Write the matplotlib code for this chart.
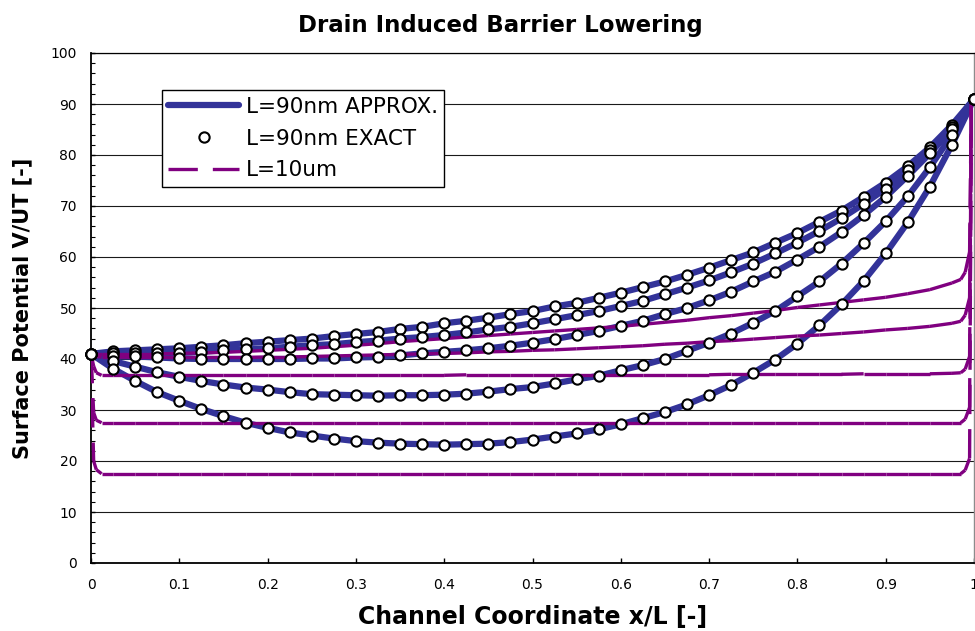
# surface potential along the channel: 90nm device vs 10um long channel (DIBL)
import numpy as np
import matplotlib.pyplot as plt
from matplotlib.collections import LineCollection
from matplotlib.lines import Line2D
from matplotlib.ticker import MultipleLocator

# channel coordinate x/L of the 90nm samples
x_90 = [0.0, 0.025, 0.05, 0.075, 0.1, 0.125, 0.15, 0.175, 0.2, 0.225,
        0.25, 0.275, 0.3, 0.325, 0.35, 0.375, 0.4, 0.425, 0.45, 0.475,
        0.5, 0.525, 0.55, 0.575, 0.6, 0.625, 0.65, 0.675, 0.7, 0.725,
        0.75, 0.775, 0.8, 0.825, 0.85, 0.875, 0.9, 0.925, 0.95, 0.975, 1.0]

# L=90nm surface potential V/UT, one curve per bias
psi_90_a = [41.0, 41.5, 41.7, 41.9, 42.1, 42.4, 42.7, 43.1, 43.4, 43.7,
            44.0, 44.5, 44.9, 45.3, 45.9, 46.3, 47.0, 47.5, 48.1, 48.8,
            49.4, 50.3, 51.0, 52.0, 53.0, 54.1, 55.2, 56.5, 57.9, 59.4,
            60.9, 62.8, 64.7, 66.9, 69.1, 71.8, 74.6, 77.8, 81.5, 85.9, 91.0]
psi_90_b = [41.0, 41.2, 41.2, 41.2, 41.2, 41.4, 41.7, 41.9, 42.1, 42.4,
            42.7, 42.9, 43.3, 43.6, 44.0, 44.3, 44.7, 45.2, 45.8, 46.3,
            47.0, 47.8, 48.6, 49.4, 50.4, 51.4, 52.7, 54.0, 55.4, 57.0,
            58.7, 60.7, 62.8, 65.1, 67.6, 70.4, 73.4, 77.0, 81.0, 85.5, 91.0]
psi_90_c = [41.0, 40.5, 40.5, 40.3, 40.1, 40.0, 40.0, 40.0, 40.0, 40.0,
            40.1, 40.1, 40.3, 40.4, 40.7, 41.1, 41.4, 41.7, 42.1, 42.6,
            43.2, 43.9, 44.7, 45.5, 46.5, 47.5, 48.8, 50.0, 51.5, 53.2,
            55.2, 57.1, 59.5, 62.0, 64.9, 68.2, 71.8, 75.9, 80.3, 85.0, 91.0]
psi_90_d = [41.0, 39.6, 38.5, 37.4, 36.5, 35.7, 35.0, 34.4, 34.0, 33.5,
            33.1, 33.0, 32.9, 32.8, 32.9, 32.9, 33.0, 33.2, 33.6, 34.1,
            34.5, 35.2, 36.0, 36.7, 37.8, 38.8, 40.0, 41.6, 43.2, 45.0,
            47.1, 49.4, 52.3, 55.2, 58.7, 62.7, 67.0, 71.9, 77.6, 83.9, 91.0]
psi_90_e = [41.0, 38.1, 35.7, 33.5, 31.8, 30.2, 28.8, 27.5, 26.5, 25.6,
            25.0, 24.4, 23.9, 23.6, 23.4, 23.3, 23.2, 23.3, 23.4, 23.7,
            24.2, 24.8, 25.4, 26.2, 27.2, 28.4, 29.6, 31.1, 32.9, 34.9,
            37.3, 39.9, 43.0, 46.6, 50.7, 55.3, 60.7, 66.8, 73.8, 82.0, 91.0]

# channel coordinate of the 10um samples (steep source/drain edges)
x_10 = [0.0, 0.003, 0.006, 0.012, 0.025, 0.05, 0.075, 0.1, 0.125, 0.15,
        0.175, 0.2, 0.225, 0.25, 0.275, 0.3, 0.325, 0.35, 0.375, 0.4,
        0.425, 0.45, 0.475, 0.5, 0.525, 0.55, 0.575, 0.6, 0.625, 0.65,
        0.675, 0.7, 0.725, 0.75, 0.775, 0.8, 0.825, 0.85, 0.875, 0.9,
        0.925, 0.95, 0.975, 0.985, 0.99, 0.995, 0.997]

# L=10um surface potential V/UT
psi_10_a = [41.0, 41.0, 41.0, 41.0, 41.0, 41.0, 41.0, 41.1, 41.2, 41.3,
            41.5, 41.7, 41.9, 42.1, 42.4, 42.7, 43.0, 43.4, 43.7, 44.0,
            44.3, 44.6, 44.9, 45.2, 45.5, 45.8, 46.1, 46.4, 46.8, 47.2,
            47.6, 48.1, 48.5, 49.0, 49.5, 50.1, 50.6, 51.1, 51.6, 52.1,
            52.8, 53.6, 54.9, 55.6, 57.0, 61.0, 91.0]
psi_10_b = [41.0, 40.7, 40.5, 40.4, 40.4, 40.3, 40.3, 40.3, 40.3, 40.3,
            40.3, 40.4, 40.4, 40.5, 40.6, 40.7, 40.8, 40.9, 41.0, 41.1,
            41.2, 41.4, 41.5, 41.7, 41.8, 42.0, 42.2, 42.4, 42.6, 42.9,
            43.1, 43.4, 43.6, 43.9, 44.2, 44.5, 44.7, 45.0, 45.3, 45.7,
            46.0, 46.4, 47.0, 47.4, 48.6, 52.0, 91.0]
psi_10_c = [41.0, 38.6, 37.3, 36.8, 36.8, 36.8, 36.8, 36.8, 36.8, 36.8,
            36.8, 36.8, 36.8, 36.8, 36.8, 36.8, 36.8, 36.8, 36.8, 36.8,
            36.9, 36.9, 36.9, 36.9, 36.9, 36.9, 36.9, 36.9, 36.9, 36.9,
            36.9, 36.9, 37.0, 37.0, 37.0, 37.0, 37.0, 37.0, 37.1, 37.1,
            37.1, 37.1, 37.2, 37.3, 38.0, 40.5, 91.0]
psi_10_d = [41.0, 29.5, 28.0, 27.5, 27.5, 27.5, 27.5, 27.5, 27.5, 27.5,
            27.5, 27.5, 27.5, 27.5, 27.5, 27.5, 27.5, 27.5, 27.5, 27.5,
            27.5, 27.5, 27.5, 27.5, 27.5, 27.5, 27.5, 27.5, 27.5, 27.5,
            27.5, 27.5, 27.5, 27.5, 27.5, 27.5, 27.5, 27.5, 27.5, 27.5,
            27.5, 27.5, 27.5, 27.5, 28.2, 30.5, 91.0]
psi_10_e = [41.0, 20.0, 18.3, 17.5, 17.5, 17.5, 17.5, 17.5, 17.5, 17.5,
            17.5, 17.5, 17.5, 17.5, 17.5, 17.5, 17.5, 17.5, 17.5, 17.5,
            17.5, 17.5, 17.5, 17.5, 17.5, 17.5, 17.5, 17.5, 17.5, 17.5,
            17.5, 17.5, 17.5, 17.5, 17.5, 17.5, 17.5, 17.5, 17.5, 17.5,
            17.5, 17.5, 17.5, 17.5, 18.2, 20.5, 91.0]

x_ticks = [0.0, 0.1, 0.2, 0.3, 0.4, 0.5, 0.6, 0.7, 0.8, 0.9, 1.0]
x_tick_labels = ["0", "0.1", "0.2", "0.3", "0.4", "0.5", "0.6", "0.7", "0.8", "0.9", "1"]
y_ticks = [0, 10, 20, 30, 40, 50, 60, 70, 80, 90, 100]
series_names = ["L=90nm APPROX.", "L=90nm EXACT", "L=10um"]

# styles
blue = "#333399"
purple = "#800080"
dash = (8.8, 4.5)
ms_circ = 7.4
mew_circ = 1.5

psi_90 = [psi_90_a, psi_90_b, psi_90_c, psi_90_d, psi_90_e]
psi_10 = [psi_10_a, psi_10_b, psi_10_c, psi_10_d, psi_10_e]

fig = plt.figure(figsize=(9.75, 6.31), dpi=100)
ax = fig.add_axes([91/975, 68/631, 883/975, 510/631])

# approximate model, thick lines
for psi in psi_90:
	ax.plot(x_90, psi, color=blue, lw=4.5, solid_capstyle="round", zorder=2)

# long channel: one dashed piece per segment so the dash restarts at every point
segs = []
for psi in psi_10:
	pts = np.column_stack([x_10, psi])
	for i1 in range(len(pts) - 1):
		segs.append(pts[i1:i1 + 2])
lc = LineCollection(segs, colors=purple, linewidths=2.4, linestyles=[(0, dash)], zorder=3)
lc.set_capstyle("butt")
ax.add_collection(lc)

# exact solution, open circles
for psi in psi_90:
	ax.plot(x_90, psi, ls="none", marker="o", ms=ms_circ, mfc="white", mec="black",
			mew=mew_circ, zorder=4, clip_on=False)

# axes
ax.set_xlim(0, 1)
ax.set_ylim(0, 100)
ax.set_xticks(x_ticks)
ax.set_xticklabels(x_tick_labels)
ax.set_yticks(y_ticks)
ax.yaxis.set_minor_locator(MultipleLocator(2))
ax.tick_params(axis="x", which="major", direction="in", length=3.6, width=1, pad=11, labelsize=10)
ax.tick_params(axis="y", which="major", direction="in", length=3.2, width=1, pad=10, labelsize=10)
ax.tick_params(axis="y", which="minor", direction="in", length=3.2, width=0.8)
ax.yaxis.grid(True, color="#1a1a1a", lw=0.8)
ax.set_axisbelow(True)
for side in ["left", "bottom"]:
	ax.spines[side].set_linewidth(1.3)
	ax.spines[side].set_color("black")
ax.spines["top"].set_linewidth(0.9)
ax.spines["right"].set_color("#8c8c8c")
ax.spines["right"].set_linewidth(1.0)

ax.set_xlabel("Channel Coordinate x/L [-]", fontsize=17, fontweight="bold", labelpad=9)
ax.set_ylabel("Surface Potential V/UT [-]", fontsize=15, fontweight="bold", labelpad=13)
fig.text(500/975, 1 - 32/631, "Drain Induced Barrier Lowering", ha="center", va="baseline",
		 fontsize=16.5, fontweight="bold")

# legend
handles = [Line2D([], [], color=blue, lw=4.5, solid_capstyle="round"),
		   Line2D([], [], ls="none", marker="o", ms=ms_circ, mfc="white", mec="black", mew=mew_circ),
		   Line2D([], [], color=purple, lw=2.4, dashes=dash)]
leg = ax.legend(handles, series_names, loc="upper left", bbox_to_anchor=(0.080, 0.927),
				borderaxespad=0, fontsize=15.5, handlelength=3.3, handletextpad=0.3,
				borderpad=0.3, labelspacing=0.55, fancybox=False, framealpha=1,
				edgecolor="black")
leg.get_frame().set_linewidth(1.0)

fig.savefig("out.png", dpi=100)
